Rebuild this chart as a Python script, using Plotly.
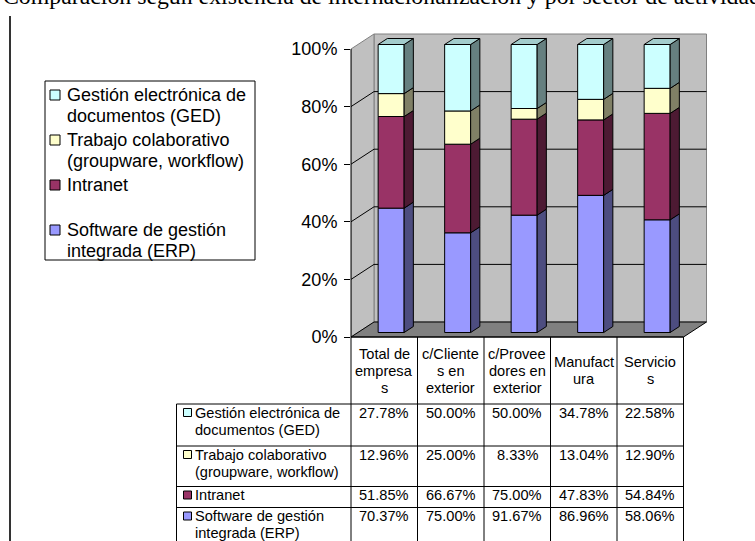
import plotly.graph_objects as go

# ---------------- data ----------------
title_text = "Comparación según existencia de internacionalización y por sector de actividad"
categories = ["Total de<br>empresa<br>s", "c/Cliente<br>s en<br>exterior",
              "c/Provee<br>dores en<br>exterior", "Manufact<br>ura", "Servicio<br>s"]
series_names = ["Gestión electrónica de<br>documentos (GED)",
                "Trabajo colaborativo<br>(groupware, workflow)",
                "Intranet",
                "Software de gestión<br>integrada (ERP)"]
ged = [27.78, 50.00, 50.00, 34.78, 22.58]
trabajo = [12.96, 25.00, 8.33, 13.04, 12.90]
intranet = [51.85, 66.67, 75.00, 47.83, 54.84]
erp = [70.37, 75.00, 91.67, 86.96, 58.06]
y_ticks = [0, 20, 40, 60, 80, 100]
y_tick_labels = ["0%", "20%", "40%", "60%", "80%", "100%"]

# ---------------- styles ----------------
front_colors = ["#CCFFFF", "#FFFFCC", "#993366", "#9999FF"]
side_colors = ["#668080", "#808066", "#4D1A33", "#4D4D80"]
top_color = "#A3CCCC"
SANS = "Arial, 'Liberation Sans', sans-serif"
SERIF = "'Times New Roman', 'Liberation Serif', serif"

W, H = 755, 541
PL, PR, PT, PB = 351, 44, 32, 203
XPX, YPX = 66.5, 2.88            # px per category / px per percent
plot_w, plot_h = W - PL - PR, H - PT - PB
x_range = [-0.5, -0.5 + plot_w / XPX]
y_range = [-1 / YPX, -1 / YPX + plot_h / YPX]
DX, DY = 23 / XPX, 15 / YPX       # chart depth
T1, T2 = 0.3, 0.7                 # bar depth span
BW = 26 / XPX                     # bar width

def pxx(px):
    return (px - PL) / plot_w

def pxy(py):
    return (H - PB - py) / plot_h

def datax_to_paper(x):
    return (x - x_range[0]) / (x_range[1] - x_range[0])

fig = go.Figure()

def poly(xs, ys, fill, lc="black"):
    fig.add_trace(go.Scatter(x=list(xs) + [xs[0]], y=list(ys) + [ys[0]], mode="lines",
                             fill="toself", fillcolor=fill,
                             line=dict(color=lc, width=1),
                             hoverinfo="skip", showlegend=False))

def line(xs, ys, lc="black"):
    fig.add_trace(go.Scatter(x=xs, y=ys, mode="lines", line=dict(color=lc, width=1),
                             hoverinfo="skip", showlegend=False))

n = len(categories)
xl0, xr0 = -0.5, n - 0.5
# walls and floor
poly([xl0 + DX, xr0 + DX, xr0 + DX, xl0 + DX], [DY, DY, 100 + DY, 100 + DY], "#C0C0C0", "#808080")
poly([xl0, xl0 + DX, xl0 + DX, xl0], [0, DY, 100 + DY, 100], "#C0C0C0", "#808080")
for v in y_ticks[1:-1]:
    line([xl0, xl0 + DX, xr0 + DX], [v, v + DY, v + DY])
poly([xl0, xr0, xr0 + DX, xl0 + DX], [0, 0, DY, DY], "#808080", "black")

# bars (100% stacked)
stack = [(erp, 3), (intranet, 2), (trabajo, 1), (ged, 0)]
for i in range(n):
    total = sum(s[0][i] for s in stack)
    cum = 0.0
    xl1 = i - BW / 2 + T1 * DX
    xr1 = i + BW / 2 + T1 * DX
    xl2 = i - BW / 2 + T2 * DX
    xr2 = i + BW / 2 + T2 * DX
    for vals, k in stack:
        share = vals[i] / total * 100
        b, t = cum, cum + share
        cum = t
        poly([xl1, xr1, xr1, xl1], [b + T1 * DY, b + T1 * DY, t + T1 * DY, t + T1 * DY], front_colors[k])
        poly([xr1, xr2, xr2, xr1], [b + T1 * DY, b + T2 * DY, t + T2 * DY, t + T1 * DY], side_colors[k])
    poly([xl1, xr1, xr2, xl2], [cum + T1 * DY, cum + T1 * DY, cum + T2 * DY, cum + T2 * DY], top_color)

shapes = []
# y axis line (0..100 only)
shapes.append(dict(type="line", xref="paper", yref="y", x0=0, x1=0, y0=0, y1=100,
                   line=dict(color="black", width=1)))

# ---------------- text helper ----------------
def text_lines(x, xref, py_first, txt, size, xanchor, spacing, family=SANS):
    for li, ln in enumerate(txt.split("<br>")):
        fig.add_annotation(x=x, xref=xref, y=pxy(py_first + li * spacing), yref="paper",
                           text=ln, showarrow=False, xanchor=xanchor, yanchor="middle",
                           font=dict(size=size, color="black", family=family))

# ---------------- data table ----------------
TFS = 14.6
row_edges = [404, 446, 486.5, 507.5, 549]
head_top = H - PB - 1
lab_left = 176.5
tab_right = datax_to_paper(xr0)
for j in range(n + 1):
    xe = datax_to_paper(j - 0.5)
    shapes.append(dict(type="line", xref="paper", yref="paper", x0=xe, x1=xe,
                       y0=pxy(head_top), y1=pxy(row_edges[-1]), line=dict(color="black", width=1)))
shapes.append(dict(type="line", xref="paper", yref="paper", x0=0, x1=tab_right,
                   y0=pxy(head_top), y1=pxy(head_top), line=dict(color="black", width=1)))
for r in row_edges[:-1]:
    shapes.append(dict(type="line", xref="paper", yref="paper", x0=pxx(lab_left), x1=tab_right,
                       y0=pxy(r), y1=pxy(r), line=dict(color="black", width=1)))
shapes.append(dict(type="line", xref="paper", yref="paper", x0=pxx(lab_left), x1=pxx(lab_left),
                   y0=pxy(row_edges[0]), y1=pxy(row_edges[-1]), line=dict(color="black", width=1)))

# header
for i, c in enumerate(categories):
    nl = len(c.split("<br>"))
    mid = (head_top + row_edges[0]) / 2
    text_lines(i, "x", mid - (nl - 1) * 17 / 2, c, TFS, "center", 17)

table_vals = [ged, trabajo, intranet, erp]
for r, (name, vals) in enumerate(zip(series_names, table_vals)):
    cy = row_edges[r] + 8.5
    shapes.append(dict(type="rect", xref="paper", yref="paper", x0=pxx(183.5), x1=pxx(191.5),
                       y0=pxy(cy - 4), y1=pxy(cy + 4), fillcolor=front_colors[r],
                       line=dict(color="black", width=1)))
    text_lines(pxx(193), "paper", cy, name, TFS, "left", 17)
    for i, v in enumerate(vals):
        text_lines(i, "x", cy, f"{v:.2f}%", TFS, "center", 17)

# ---------------- legend ----------------
LFS = 18
shapes.append(dict(type="rect", xref="paper", yref="paper", x0=pxx(45), x1=pxx(255),
                   y0=pxy(81), y1=pxy(260), fillcolor="white", line=dict(color="black", width=1)))
for k, name in enumerate(series_names):
    cy = 95 + 45 * k
    shapes.append(dict(type="rect", xref="paper", yref="paper", x0=pxx(50), x1=pxx(60),
                       y0=pxy(cy - 5), y1=pxy(cy + 5), fillcolor=front_colors[k],
                       line=dict(color="black", width=1)))
    text_lines(pxx(65), "paper", cy, name, LFS, "left", 21)

# ---------------- title (clipped at page top) and page border ----------------
text_lines(pxx(1), "paper", -4, title_text, 23.8, "left", 20, family=SERIF)
shapes.append(dict(type="line", xref="paper", yref="paper", x0=pxx(10), x1=pxx(10),
                   y0=pxy(16), y1=pxy(560), line=dict(color="#333333", width=2)))

fig.update_layout(
    template="none",
    width=W, height=H,
    margin=dict(l=PL, r=PR, t=PT, b=PB, pad=0),
    paper_bgcolor="white", plot_bgcolor="rgba(0,0,0,0)",
    showlegend=False,
    shapes=shapes,
    xaxis=dict(range=x_range, visible=False, showgrid=False, zeroline=False,
               automargin=False, fixedrange=True),
    yaxis=dict(range=y_range, tickvals=y_ticks, ticktext=y_tick_labels,
               ticks="outside", ticklen=6, tickwidth=1, tickcolor="black",
               ticklabelstandoff=3,
               showline=False, showgrid=False, zeroline=False, automargin=False,
               tickfont=dict(family=SANS, size=18, color="black"), fixedrange=True),
    font=dict(family=SANS, color="black"),
)

fig.write_html("out.html", config={"displayModeBar": False},
               post_script="document.body.style.margin='0';")
